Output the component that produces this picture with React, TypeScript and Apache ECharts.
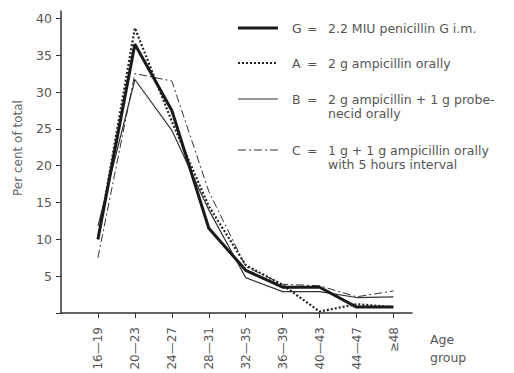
import React, { useEffect, useRef } from "react";
import * as echarts from "echarts";

const categories = ["16—19", "20—23", "24—27", "28—31", "32—35", "36—39", "40—43", "44—47", "≥48"];
const seriesG = [10, 36.5, 27.5, 11.5, 5.8, 3.5, 3.5, 0.8, 0.8];
const seriesA = [10, 38.7, 26, 14.5, 6.5, 3.8, 0.2, 1.2, 0.8];
const seriesB = [11.8, 31.7, 24.8, 14, 4.8, 2.9, 2.9, 2.1, 2.2];
const seriesC = [7.5, 32.5, 31.5, 16.5, 6.3, 3.9, 3.7, 2.2, 3.0];
const yTicks = [0, 5, 10, 15, 20, 25, 30, 35, 40];
const yLabels = [5, 10, 15, 20, 25, 30, 35, 40];

const FONT = "DejaVu Sans";
const TXT = "#555";

export default function App() {
  const ref = useRef<HTMLDivElement>(null);
  useEffect(() => {
    if (!ref.current) return;
    const chart = echarts.init(ref.current, null, { renderer: "svg" });
    const idx = categories.map((_, i) => i);
    const toData = (arr: number[]) => arr.map((v, i) => [i, v]);

    const legendItems = [
      { key: "G", y: 28, lines: ["2.2 MIU penicillin G i.m."], style: { stroke: "#1a1a1a", lineWidth: 3 } },
      { key: "A", y: 63, lines: ["2 g ampicillin orally"], style: { stroke: "#222", lineWidth: 2, lineDash: [2, 2] } },
      { key: "B", y: 99, lines: ["2 g ampicillin + 1 g probe-", "necid orally"], style: { stroke: "#333", lineWidth: 1.2 } },
      { key: "C", y: 150, lines: ["1 g + 1 g ampicillin orally", "with 5 hours interval"], style: { stroke: "#333", lineWidth: 1, lineDash: [8, 3, 2, 3] } },
    ];
    const LF = `12.5px "${FONT}"`;
    const graphics: any[] = [];
    legendItems.forEach((it) => {
      graphics.push({ type: "line", shape: { x1: 238, y1: it.y, x2: 278, y2: it.y }, style: it.style, silent: true });
      graphics.push({ type: "text", x: 292, y: it.y, style: { text: it.key, font: LF, fill: TXT, verticalAlign: "middle" } });
      graphics.push({ type: "text", x: 307, y: it.y, style: { text: "=", font: LF, fill: TXT, verticalAlign: "middle" } });
      it.lines.forEach((t, j) => {
        graphics.push({ type: "text", x: 328, y: it.y + j * 14, style: { text: t, font: LF, fill: TXT, verticalAlign: "middle" } });
      });
    });
    graphics.push({ type: "text", x: 430, y: 339, style: { text: "Age", font: LF, fill: TXT, verticalAlign: "middle" } });
    graphics.push({ type: "text", x: 430, y: 357, style: { text: "group", font: LF, fill: TXT, verticalAlign: "middle" } });
    graphics.push({
      type: "text", x: 18, y: 148, rotation: Math.PI / 2,
      style: { text: "Per cent of total", font: `12px "${FONT}"`, fill: "#666", align: "center", verticalAlign: "middle" },
    });

    chart.setOption({
      animation: false,
      backgroundColor: "#fff",
      grid: { left: 61, right: 102, top: 11, bottom: 60 },
      xAxis: {
        type: "value",
        min: -1,
        max: 8.5,
        interval: 1,
        splitLine: { show: false },
        axisLine: { show: true, onZero: false, lineStyle: { color: "#333", width: 1.5 } },
        axisTick: { show: true, length: 5, customValues: idx, lineStyle: { color: "#333" } },
        axisLabel: {
          customValues: idx,
          rotate: 90,
          margin: 14,
          color: TXT,
          fontFamily: FONT,
          fontSize: 12,
          formatter: (v: number) => categories[Math.round(v)] ?? "",
        },
      },
      yAxis: {
        type: "value",
        min: 0,
        max: 41,
        splitLine: { show: false },
        axisLine: { show: true, onZero: false, lineStyle: { color: "#333", width: 1.5 } },
        axisTick: { show: true, length: 5, customValues: yTicks, lineStyle: { color: "#333" } },
        axisLabel: { customValues: yLabels, margin: 9, color: TXT, fontFamily: FONT, fontSize: 12.5 },
      },
      series: [
        { name: "G", type: "line", data: toData(seriesG), showSymbol: false, lineStyle: { color: "#1a1a1a", width: 3 }, z: 5 },
        { name: "A", type: "line", data: toData(seriesA), showSymbol: false, lineStyle: { color: "#222", width: 2.2, type: [2, 2] }, z: 4 },
        { name: "B", type: "line", data: toData(seriesB), showSymbol: false, lineStyle: { color: "#333", width: 1.2 }, z: 3 },
        { name: "C", type: "line", data: toData(seriesC), showSymbol: false, lineStyle: { color: "#333", width: 1, type: [8, 3, 2, 3] }, z: 2 },
      ],
      graphic: graphics,
    });
    return () => chart.dispose();
  }, []);
  return <div ref={ref} style={{ width: 514, height: 373, position: "fixed", left: 0, top: 0 }} />;
}
